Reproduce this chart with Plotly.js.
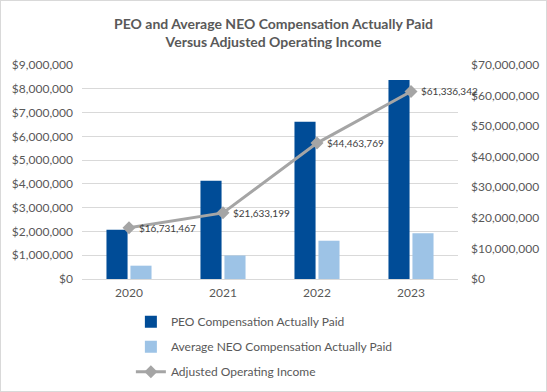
<!DOCTYPE html>
<html>
<head>
<meta charset="utf-8">
<script src="https://cdn.plot.ly/plotly-3.0.1.min.js"></script>
<style>
html,body{margin:0;padding:0;background:#fff;}
#frame{width:547px;height:392px;box-sizing:border-box;border:1px solid #D9D9D9;}
#chart{width:545px;height:390px;}
</style>
</head>
<body>
<div id="frame"><div id="chart"></div></div>
<script>
const years = ["2020", "2021", "2022", "2023"];
const peoCAP = [2070000, 4130000, 6610000, 8370000];
const neoCAP = [560000, 990000, 1610000, 1920000];
const adjOpIncome = [16731467, 21633199, 44463769, 61336342];

const fontFam = "Lato, 'Open Sans', sans-serif";
const grey = "#595959";

const traces = [
  {
    type: "bar", name: "PEO Compensation Actually Paid",
    x: years, y: peoCAP, marker: {color: "#004C97"},
    legendgroup: "a", hoverinfo: "skip"
  },
  {
    type: "bar", name: "Average NEO Compensation Actually Paid",
    x: years, y: neoCAP, marker: {color: "#9DC3E6"},
    legendgroup: "b", hoverinfo: "skip"
  },
  {
    type: "scatter", mode: "lines+markers", name: "Adjusted Operating Income",
    x: years, y: adjOpIncome, yaxis: "y2",
    line: {color: "#A5A5A5", width: 3},
    marker: {symbol: "diamond", size: 10, color: "#A5A5A5"},
    legendgroup: "c", hoverinfo: "skip"
  }
];

const fmt = v => "$" + Math.round(v).toLocaleString("en-US");
// category index positions for data labels on the line
const labels = years.map((yr, i) => ({
  x: i, y: adjOpIncome[i], xref: "x", yref: "y2",
  text: fmt(adjOpIncome[i]), showarrow: false,
  xanchor: "left", yanchor: "middle", xshift: 8,
  font: {family: fontFam, size: 10, color: "#404040"}
}));

const layout = {
  width: 545, height: 390,
  margin: {l: 81, r: 88, t: 64, b: 112, autoexpand: false},
  paper_bgcolor: "#fff", plot_bgcolor: "#fff",
  font: {family: fontFam, size: 12, color: grey},
  title: {
    text: "<b>PEO and Average NEO Compensation Actually Paid<br>Versus Adjusted Operating Income</b>",
    font: {family: fontFam, size: 14, color: grey},
    x: 0.5, xanchor: "center", yref: "container", y: 0.928, yanchor: "middle"
  },
  barmode: "group", bargap: 0.49, bargroupgap: 0.12,
  xaxis: {
    type: "category", categoryarray: years, range: [-0.5, years.length - 0.5],
    showgrid: false, showline: false, zeroline: false,
    ticks: "", ticklabelstandoff: 5, tickfont: {size: 12, color: grey}
  },
  yaxis: {
    range: [0, 9000000], dtick: 1000000, tickprefix: "$", tickformat: ",d",
    gridcolor: "#D9D9D9", gridwidth: 1, zeroline: true, zerolinecolor: "#D9D9D9",
    showline: false, ticks: "", ticklabelstandoff: 8, tickfont: {size: 12, color: grey}
  },
  yaxis2: {
    overlaying: "y", side: "right",
    range: [0, 70000000], dtick: 10000000, tickprefix: "$", tickformat: ",d",
    showgrid: false, zeroline: false, showline: false, ticks: "", ticklabelstandoff: 12,
    tickfont: {size: 12, color: grey}
  },
  annotations: labels,
  showlegend: true,
  legend: {
    orientation: "v", x: 0.13, xanchor: "left", yref: "container", y: 0.215, yanchor: "top",
    traceorder: "grouped", tracegroupgap: 6,
    font: {family: fontFam, size: 12, color: grey}, bgcolor: "rgba(0,0,0,0)"
  }
};

Plotly.newPlot("chart", traces, layout, {staticPlot: true, displayModeBar: false});
</script>
</body>
</html>
